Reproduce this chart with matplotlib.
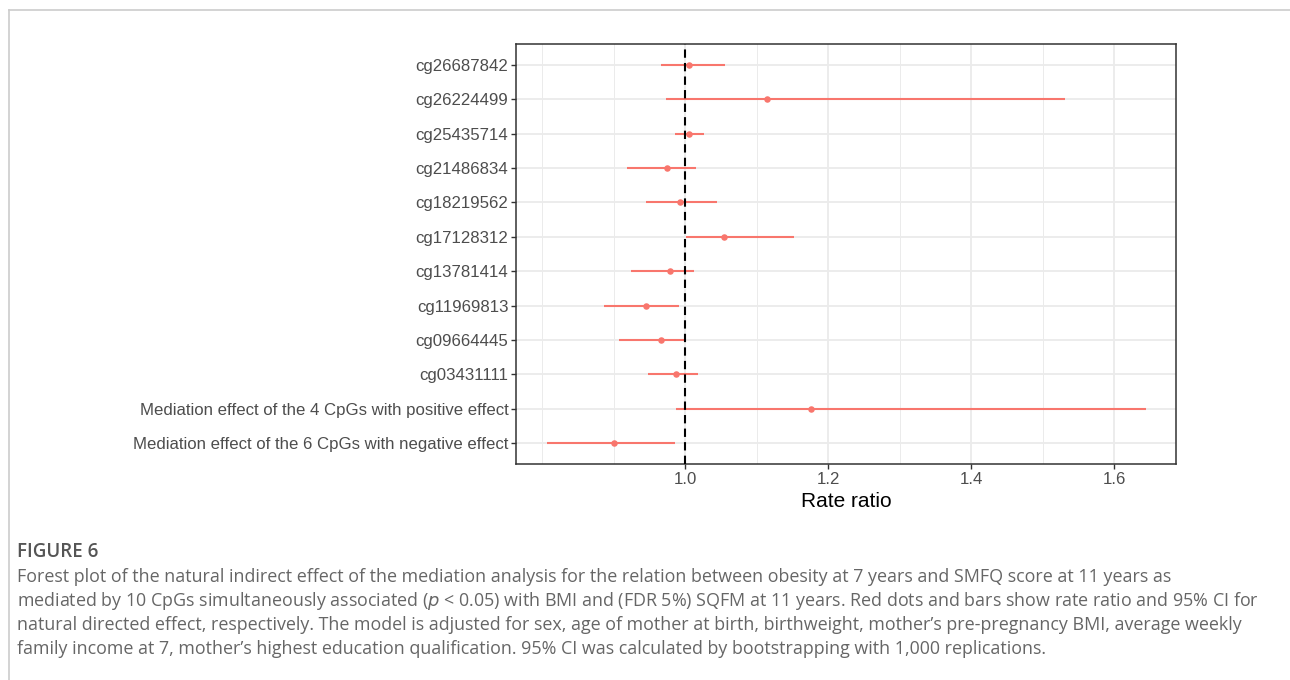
import matplotlib.pyplot as plt
from matplotlib.lines import Line2D
import numpy as np

labels = ["cg26687842", "cg26224499", "cg25435714", "cg21486834", "cg18219562",
          "cg17128312", "cg13781414", "cg11969813", "cg09664445", "cg03431111",
          "Mediation effect of the 4 CpGs with positive effect",
          "Mediation effect of the 6 CpGs with negative effect"]
rr = [1.006, 1.114, 1.005, 0.975, 0.993, 1.054, 0.979, 0.945, 0.967, 0.988, 1.176, 0.900]
lo = [0.967, 0.974, 0.986, 0.919, 0.946, 1.002, 0.924, 0.887, 0.907, 0.948, 0.987, 0.807]
hi = [1.056, 1.531, 1.027, 1.016, 1.045, 1.152, 1.013, 0.992, 1.000, 1.018, 1.645, 0.986]

caption_head = "FIGURE 6"
caption = [
    "Forest plot of the natural indirect effect of the mediation analysis for the relation between obesity at 7 years and SMFQ score at 11 years as",
    "mediated by 10 CpGs simultaneously associated ($\\it{p}$ < 0.05) with BMI and (FDR 5%) SQFM at 11 years. Red dots and bars show rate ratio and 95% CI for",
    "natural directed effect, respectively. The model is adjusted for sex, age of mother at birth, birthweight, mother\u2019s pre-pregnancy BMI, average weekly",
    "family income at 7, mother\u2019s highest education qualification. 95% CI was calculated by bootstrapping with 1,000 replications.",
]

red = "#F8766D"
W, H = 1290, 680
fig = plt.figure(figsize=(W / 100, H / 100), dpi=100)
ax = fig.add_axes([516 / W, 1 - 464 / H, (1176 - 516) / W, (464 - 44) / H])

y = np.arange(len(labels))[::-1]
ax.hlines(y, lo, hi, color=red, lw=1.5, zorder=3)
ax.scatter(rr, y, s=22, color=red, zorder=4, linewidths=0)
ax.axvline(1.0, color="black", lw=1.5, ls=(0, (4, 2.5)), zorder=5)

ax.set_xlim(0.7636, 1.6867)
ax.set_ylim(-0.6, len(labels) - 1 + 0.6)
ax.set_yticks(y)
ax.set_yticklabels(labels)
ax.set_xticks([1.0, 1.2, 1.4, 1.6])
ax.set_xticklabels(["1.0", "1.2", "1.4", "1.6"])
ax.set_xticks([0.8, 0.9, 1.1, 1.3, 1.5], minor=True)
ax.grid(True, which="major", color="#EBEBEB", lw=1.3, zorder=0)
ax.grid(True, which="minor", axis="x", color="#EBEBEB", lw=0.7, zorder=0)
ax.set_axisbelow(True)
ax.tick_params(which="major", length=3.5, width=1, color="#333333",
               labelsize=12.1, labelcolor="#4D4D4D", pad=2)
ax.tick_params(which="minor", length=0)
for t in ax.get_xticklabels() + ax.get_yticklabels():
    t.set_family("Liberation Sans")
for s in ax.spines.values():
    s.set_color("#333333")
    s.set_linewidth(1.1)
ax.set_xlabel("Rate ratio", fontsize=15, family="Liberation Sans", color="black", labelpad=4)

# page frame
fig.add_artist(Line2D([9 / W, 9 / W], [0, 1 - 10 / H], color="#CCCCCC", lw=1.2))
fig.add_artist(Line2D([9 / W, 1], [1 - 10 / H, 1 - 10 / H], color="#CCCCCC", lw=1.2))

fig.text(17 / W, 1 - 552 / H, caption_head, fontsize=13.5, family="Open Sans",
         fontweight="semibold", color="#555555", va="center")
for i, line in enumerate(caption):
    fig.text(17 / W, 1 - (577 + 24 * i) / H, line, fontsize=12.9, family="Open Sans",
             color="#666666", va="center")

fig.savefig("out.png", dpi=100)
